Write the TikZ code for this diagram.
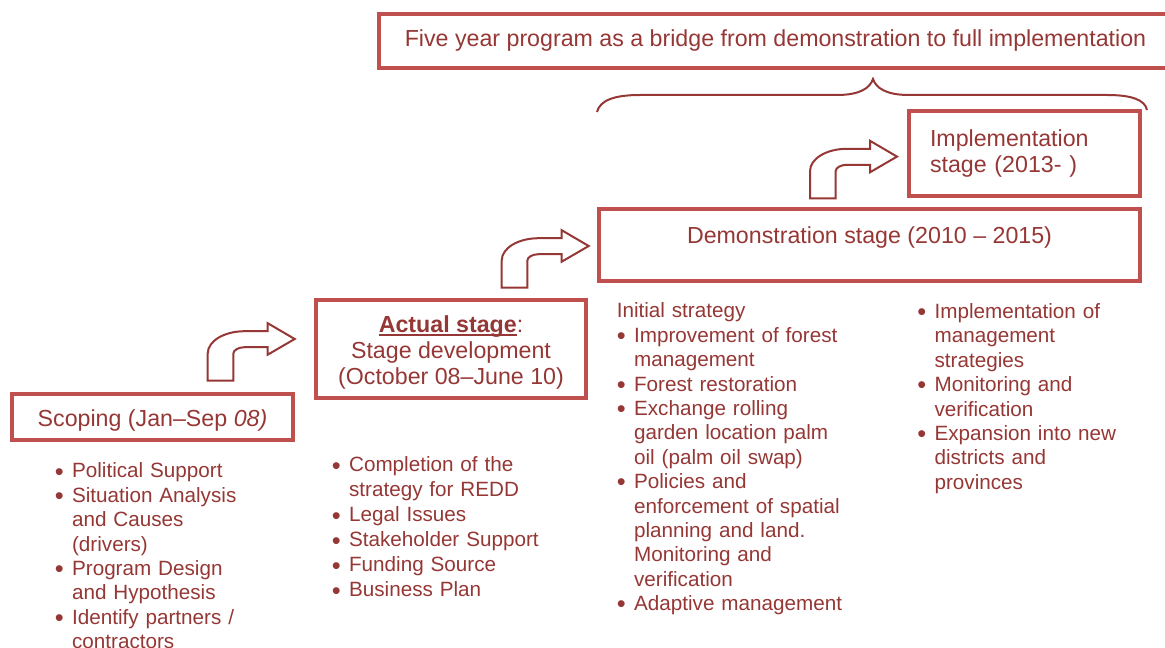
\documentclass[tikz,border=0pt]{standalone}
\usepackage{fontspec}
\setmainfont{Liberation Sans}
\definecolor{boxred}{HTML}{C0504D}
\definecolor{txtred}{HTML}{953735}
% type sizes: stage titles and bullet lists
\newcommand\bigtxt{\fontsize{17.4pt}{20pt}\selectfont}
\newcommand\smtxt{\fontsize{15.5pt}{18.3pt}\selectfont}
% bullet head with hanging indent (lines inside an item use \newline)
\newcommand\bulhead{\noindent\hangindent=13pt\hangafter=1%
  \makebox[13pt][l]{\raisebox{-1.6pt}{\fontsize{19pt}{19pt}\selectfont\textbullet}}}
% a further item: close the previous paragraph first
\newcommand\bul{\par\bulhead}
% heavy underline for the current stage heading
\newcommand\thickunder[1]{\setbox0\hbox{#1}\rlap{\rule[-2.5pt]{\wd0}{1.5pt}}\box0}

\begin{document}
\begin{tikzpicture}[x=0.75pt,y=-0.75pt,
  stagebox/.style={draw=boxred, line width=3pt, inner sep=0pt, text=txtred, font=\bigtxt},
  stagetext/.style={inner sep=0pt, text=txtred, font=\bigtxt},
  bullist/.style={anchor=north west, inner sep=0pt, text=txtred, font=\smtxt},
  bentarr/.pic={
    \draw[draw=txtred, line width=1.5pt, fill=white, line join=miter]
      (0,0) -- (0,-27) .. controls (0,-40) and (17,-49.5) .. (37,-49.5)
      -- (60,-49.5) -- (60,-57.5) -- (87,-41.7) -- (60,-26) -- (60,-33.5)
      -- (37,-33.5) .. controls (30.6,-33.5) and (25.6,-30.5) .. (25.6,-27)
      -- (25.6,0) -- cycle;
  }]
\useasboundingbox (0,0) rectangle (1165,648);

% program banner and its brace
\node[stagebox, minimum width=594.75pt, minimum height=40.5pt] (banner) at (775.5,41)
  {Five year program as a bridge from demonstration to full implementation};
\draw[txtred, line width=1.5pt]
  (597,112) .. controls (600,100) and (615,95) .. (640,95) -- (837,95)
  .. controls (860,95) and (870,88) .. (873,79)
  .. controls (876,88) and (886,95) .. (909,95) -- (1107,95)
  .. controls (1132,95) and (1145,100) .. (1147,110);

% stage boxes
\node[stagebox, minimum width=210.75pt, minimum height=34.5pt] (scoping) at (152.5,417) {};
\node[stagetext] (scopingtext) at (152.5,421) {Scoping (Jan–Sep \textit{08)}};
\node[stagebox, minimum width=202.5pt, minimum height=73.5pt] (actual) at (451,349) {};
\node[stagetext, align=center, font=\fontsize{17.4pt}{19.7pt}\selectfont] (actualtext) at (451,352.5)
  {\thickunder{\textbf{Actual stage}}:\\Stage development\\(October 08–June 10)};
\node[stagebox, minimum width=405.75pt, minimum height=54pt] (demo) at (869.5,245) {};
\node[stagetext] (demotext) at (869.5,238) {Demonstration stage (2010 – 2015)};
\node[stagebox, minimum width=173.25pt, minimum height=63.75pt, text width=141.75pt,
      align=left] (impl) at (1024.5,153.5)
  {Implementation\\stage (2013- )};

% step arrows between the stages
\pic (arrA) at (207.7,380.7) {bentarr};
\pic (arrB) at (501.7,287.7) {bentarr};
\pic (arrC) at (810,198.3) {bentarr};

% activity lists
\node[bullist, text width=172pt] (scopelist) at (54.5,462.7)
  {\bulhead Political Support\bul Situation Analysis\newline and Causes\newline (drivers)%
   \bul Program Design\newline and Hypothesis\bul Identify partners /\newline contractors\par};
\node[bullist, text width=187pt, font=\fontsize{15.5pt}{18.75pt}\selectfont] (actuallist) at (331.5,456.7)
  {\bulhead Completion of the\newline strategy for REDD\bul Legal Issues\bul Stakeholder Support%
   \bul Funding Source\bul Business Plan\par};
\node[bullist, text width=210pt] (demolistA) at (616.5,302.7)
  {\noindent Initial strategy\bul Improvement of forest\newline management\bul Forest restoration%
   \bul Exchange rolling\newline garden location palm\newline oil (palm oil swap)%
   \bul Policies and\newline enforcement of spatial\newline planning and land.\newline Monitoring and\newline verification%
   \bul Adaptive management\par};
\node[bullist, text width=180pt] (demolistB) at (917,303.3)
  {\bulhead Implementation of\newline management\newline strategies\bul Monitoring and\newline verification%
   \bul Expansion into new\newline districts and\newline provinces\par};
\end{tikzpicture}
\end{document}
